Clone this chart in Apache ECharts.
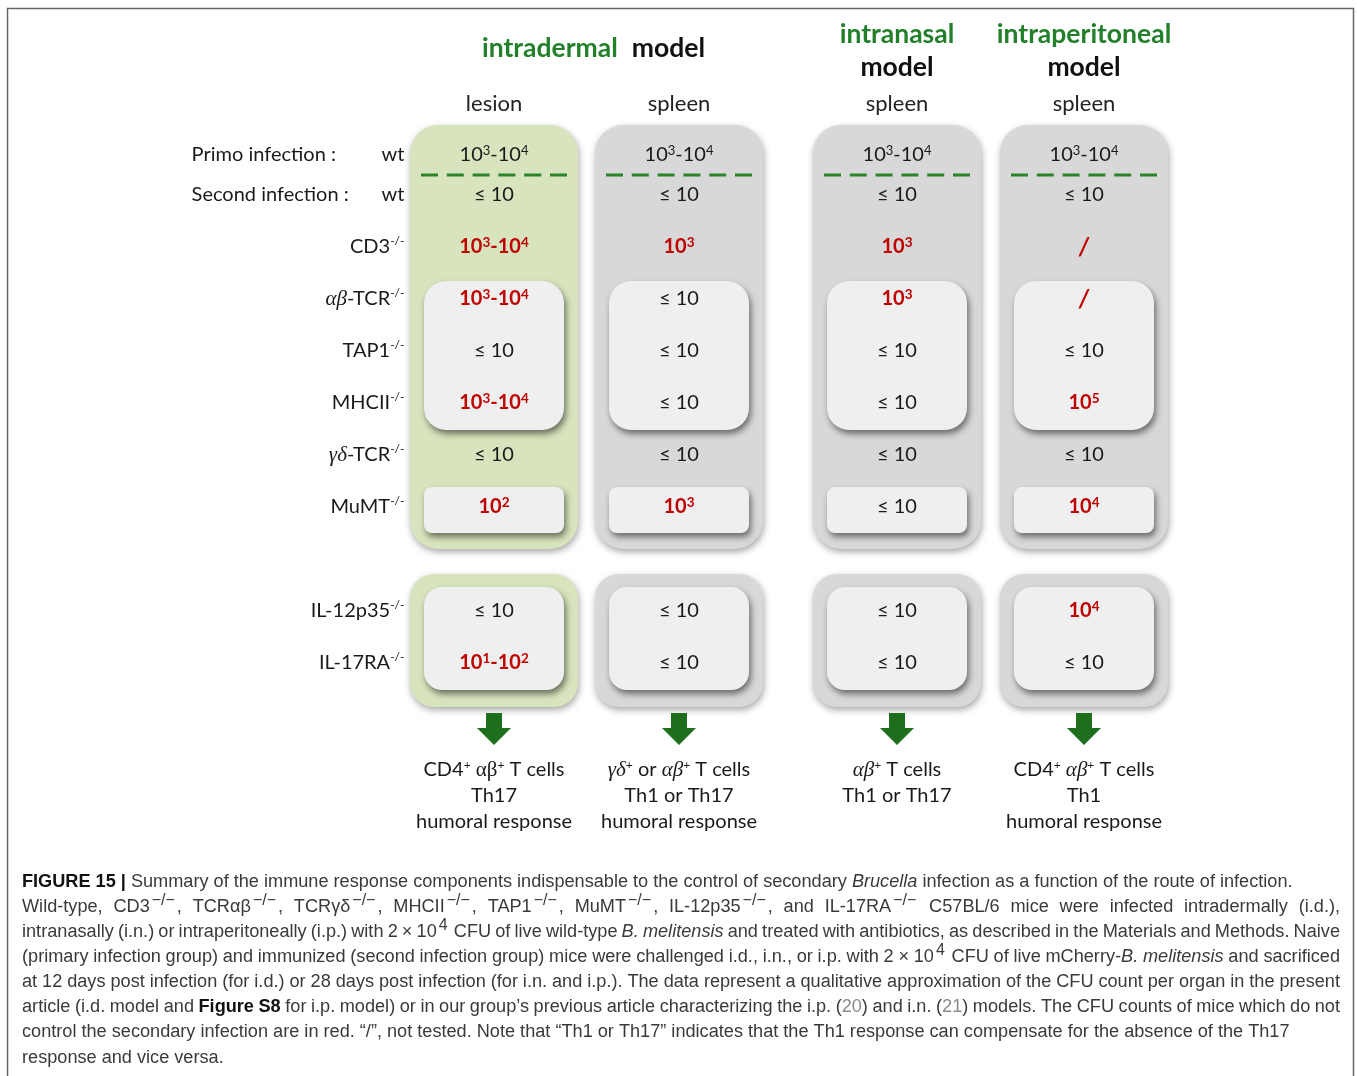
<!DOCTYPE html>
<html><head><meta charset="utf-8">
<script src="https://cdn.jsdelivr.net/npm/echarts@6/dist/echarts.min.js"></script>
<style>html,body{margin:0;padding:0;background:#fff}#c{width:1357px;height:1076px}</style>
</head><body><div id="c"></div>
<script>
// ---------------- data ----------------
const rows = ['Primo infection', 'Second infection', 'CD3', 'αβ-TCR', 'TAP1', 'MHCII', 'γδ-TCR', 'MuMT', 'gap', 'IL-12p35', 'IL-17RA'];
const models = ['intradermal', 'intranasal', 'intraperitoneal'];
const organs = [['lesion', 'spleen'], ['spleen'], ['spleen']];
// CFU per organ (row order; '' for the gap row)
const idLesion = ['10^3-10^4', '<=10', '10^3-10^4', '10^3-10^4', '<=10', '10^3-10^4', '<=10', '10^2', '', '<=10', '10^1-10^2'];
const idSpleen = ['10^3-10^4', '<=10', '10^3', '<=10', '<=10', '<=10', '<=10', '10^3', '', '<=10', '<=10'];
const inSpleen = ['10^3-10^4', '<=10', '10^3', '10^3', '<=10', '<=10', '<=10', '<=10', '', '<=10', '<=10'];
const ipSpleen = ['10^3-10^4', '<=10', '/', '/', '<=10', '10^5', '<=10', '10^4', '', '10^4', '<=10'];
const modelColumns = [[idLesion, idSpleen], [inSpleen], [ipSpleen]];
const outerGroups = [['Primo infection', 'MuMT'], ['IL-12p35', 'IL-17RA']];
const innerGroups = [['αβ-TCR', 'MHCII'], ['MuMT', 'MuMT'], ['IL-12p35', 'IL-17RA']];
const responses = [
  [['CD4⁺ αβ⁺ T cells', 'Th17', 'humoral response'], ['γδ⁺ or αβ⁺ T cells', 'Th1 or Th17', 'humoral response']],
  [['αβ⁺ T cells', 'Th1 or Th17']],
  [['CD4⁺ αβ⁺ T cells', 'Th1', 'humoral response']]
];
const captionLines = [
  '{b|FIGURE 15 |} Summary of the immune response components indispensable to the control of secondary {i|Brucella} infection as a function of the route of infection.',
  'Wild-type, CD3{s|−/−}, TCRαβ{s|−/−}, TCRγδ{s|−/−}, MHCII{s|−/−}, TAP1{s|−/−}, MuMT{s|−/−}, IL-12p35{s|−/−}, and IL-17RA{s|−/−} C57BL/6 mice were infected intradermally (i.d.),',
  'intranasally (i.n.) or intraperitoneally (i.p.) with 2 × 10{s|4} CFU of live wild-type {i|B. melitensis} and treated with antibiotics, as described in the Materials and Methods. Naive',
  '(primary infection group) and immunized (second infection group) mice were challenged i.d., i.n., or i.p. with 2 × 10{s|4} CFU of live mCherry-{i|B. melitensis} and sacrificed',
  'at 12 days post infection (for i.d.) or 28 days post infection (for i.n. and i.p.). The data represent a qualitative approximation of the CFU count per organ in the present',
  'article (i.d. model and {b|Figure S8} for i.p. model) or in our group’s previous article characterizing the i.p. ({l|20}) and i.n. ({l|21}) models. The CFU counts of mice which do not',
  'control the secondary infection are in red. “/”, not tested. Note that “Th1 or Th17” indicates that the Th1 response can compensate for the absence of the Th17',
  'response and vice versa.'
];

// ---------------- styles ----------------
const FONT = 'Lato, "Open Sans", sans-serif';
const SERIF = '"Liberation Serif", "DejaVu Serif", serif';
const CAP = '"Liberation Sans", Arial, sans-serif';
const CAP_SIZE = 18.15;
const RED = '#c00000';
const TXT = '#1a1a1a';
const GREEN_HEAD = '#23802a';

const valRich = {
  nb: {fontFamily: FONT, fontSize: 20, color: TXT},
  nsup: {fontFamily: FONT, fontSize: 13, color: TXT, padding: [0, 0, 8, 0]},
  rb: {fontFamily: FONT, fontSize: 20, fontWeight: 'bold', color: RED},
  rsup: {fontFamily: FONT, fontSize: 13.5, fontWeight: 'bold', color: RED, padding: [0, 0, 8, 0]},
  le: {fontFamily: FONT, fontSize: 20, color: TXT},
  sl: {fontFamily: FONT, fontSize: 24, fontWeight: 'bold', fontStyle: 'italic', color: RED}
};
const rowRich = {
  n: {fontFamily: FONT, fontSize: 20, color: TXT},
  g: {fontFamily: SERIF, fontSize: 21, fontStyle: 'italic', color: TXT},
  s: {fontFamily: FONT, fontSize: 12, color: TXT, padding: [0, 0, 11, 0]},
  pl: {fontFamily: FONT, fontSize: 20, color: TXT, width: 190, align: 'left', padding: [24, 0, 0, 0]},
  wt: {fontFamily: FONT, fontSize: 20, color: TXT, padding: [24, 0, 0, 0]},
  sl: {fontFamily: FONT, fontSize: 20, color: TXT, width: 190, align: 'left'},
  wt2: {fontFamily: FONT, fontSize: 20, color: TXT}
};
const respRich = {
  t: {fontFamily: FONT, fontSize: 20, color: TXT, lineHeight: 26},
  u: {fontFamily: FONT, fontSize: 12, color: TXT, lineHeight: 26, padding: [0, 0, 10, 0]},
  g: {fontFamily: SERIF, fontSize: 21, color: TXT, lineHeight: 26},
  gi: {fontFamily: SERIF, fontSize: 21, fontStyle: 'italic', color: TXT, lineHeight: 26}
};
const headRich = {
  g: {fontFamily: FONT, fontSize: 26.5, fontWeight: 'bold', color: GREEN_HEAD, lineHeight: 33},
  k: {fontFamily: FONT, fontSize: 26.5, fontWeight: 'bold', color: '#111', lineHeight: 33},
  sp: {fontFamily: FONT, fontSize: 26.5, width: 14}
};

// ---------------- formatters ----------------
function rowLabel(v) {
  if (v === 'gap') return '';
  if (v === 'Primo infection') return '{pl|Primo infection :}{wt|wt}';
  if (v === 'Second infection') return '{sl|Second infection :}{wt2|wt}';
  const m = v.match(/^([αβγδ]+)(.*)$/);
  if (m) return '{g|' + m[1] + '}{n|' + m[2] + '}{s|-/-}';
  return '{n|' + v + '}{s|-/-}';
}
function isRed(rowIdx, v) { return rowIdx >= 2 && v !== '<=10'; }
function cfuLabel(v, red) {
  if (v === '<=10') return '{le|≤ 10}';
  if (v === '/') return '{sl|/}';
  const b = red ? 'rb' : 'nb', s = red ? 'rsup' : 'nsup';
  return v.split('-').map(function (p) {
    const q = p.split('^');
    return '{' + b + '|' + q[0] + '}{' + s + '|' + q[1] + '}';
  }).join('{' + b + '|-}');
}
function respLabel(lines, upright) {
  return lines.map(function (line) {
    let out = '';
    line.split(/([αβγδ]+|⁺)/).forEach(function (tok) {
      if (!tok) return;
      if (tok === '⁺') out += '{u|+}';
      else if (/^[αβγδ]+$/.test(tok)) out += '{' + (upright ? 'g' : 'gi') + '|' + tok + '}';
      else out += '{t|' + tok + '}';
    });
    return out;
  }).join('\n');
}

// ---------------- layout ----------------
const gridLefts = [401.5, 804.5, 991.5];
const BAND_W = 185, TOP = 117, BAND_H = 52;
const grids = [], xAxes = [], yAxes = [], series = [];

models.forEach(function (model, gi) {
  const nCols = organs[gi].length;
  grids.push({left: gridLefts[gi], top: TOP, width: BAND_W * nCols, height: BAND_H * rows.length, outerBoundsMode: 'none', containLabel: false});
  const name = gi === 0 ? '{g|intradermal}{sp|}{k|model}' : '{g|' + model + '}\n{k|model}';
  xAxes.push({
    gridIndex: gi, type: 'category', position: 'top', data: organs[gi],
    axisLine: {show: false}, axisTick: {show: false}, splitLine: {show: false},
    axisLabel: {interval: 0, margin: 2, fontSize: 22, color: '#222', fontFamily: FONT},
    name: name, nameLocation: 'middle', nameGap: gi === 0 ? 52 : 33,
    nameTextStyle: {rich: headRich, padding: gi === 0 ? [0, 0, 0, 14] : 0}
  });
  xAxes.push({
    gridIndex: gi, type: 'category', position: 'bottom', data: organs[gi],
    axisLine: {show: false}, axisTick: {show: false}, splitLine: {show: false},
    axisLabel: {interval: 0, margin: 68, rich: respRich, lineHeight: 26,
      formatter: function (v, idx) { return respLabel(responses[gi][idx], organs[gi][idx] === 'lesion'); }}
  });
  yAxes.push({
    gridIndex: gi, type: 'category', inverse: true, data: rows, show: gi === 0,
    axisLine: {show: false}, axisTick: {show: false}, splitLine: {show: false},
    axisLabel: {show: gi === 0, interval: 0, margin: -3, formatter: rowLabel, rich: rowRich}
  });

  // shapes (boxes, dashed separators, arrows)
  const shapes = [];
  for (let c = 0; c < nCols; c++) {
    outerGroups.forEach(function (g, k) { shapes.push({value: [c, rows.indexOf(g[0]), rows.indexOf(g[1])], kind: 'outer', k: k}); });
    innerGroups.forEach(function (g, k) { shapes.push({value: [c, rows.indexOf(g[0]), rows.indexOf(g[1])], kind: 'inner', k: k}); });
    shapes.push({value: [c, 0, 1], kind: 'dash'});
    shapes.push({value: [c, rows.length - 1, rows.length - 1], kind: 'arrow'});
  }
  const outerPads = [[8, 16], [-11, 18]], outerR = [28, 24];
  const innerPads = [[8, 1], [6, 0], [2, 1]], innerR = [22, 8, 18];
  series.push({
    type: 'custom', xAxisIndex: gi * 2, yAxisIndex: gi, silent: true, z: 1,
    encode: {x: 0, y: 1},
    data: shapes,
    renderItem: function (params, api) {
      const sh = shapes[params.dataIndex];
      const c = api.value(0), r0 = api.value(1), r1 = api.value(2);
      const p0 = api.coord([c, r0]), p1 = api.coord([c, r1]);
      const sz = api.size([1, 1], [c, r0]);
      const bw = sz[0], bh = sz[1];
      const cx = p0[0];
      const green = organs[gi][c] === 'lesion';
      if (sh.kind === 'outer') {
        const y0 = p0[1] - bh / 2 + outerPads[sh.k][0];
        const y1 = p1[1] + bh / 2 + outerPads[sh.k][1];
        return {type: 'rect', z2: 0,
          shape: {x: cx - bw / 2 + 8.5, y: y0, width: bw - 17, height: y1 - y0, r: outerR[sh.k]},
          style: {fill: green ? '#d7e4bd' : '#d8d8d8', shadowBlur: 7, shadowOffsetX: 1, shadowOffsetY: 3, shadowColor: 'rgba(0,0,0,0.35)'}};
      }
      if (sh.kind === 'inner') {
        const y0 = p0[1] - bh / 2 + innerPads[sh.k][0];
        const y1 = p1[1] + bh / 2 + innerPads[sh.k][1];
        return {type: 'rect', z2: 1,
          shape: {x: cx - bw / 2 + 22.5, y: y0, width: bw - 45, height: y1 - y0, r: innerR[sh.k]},
          style: {fill: '#efefef', shadowBlur: 6, shadowOffsetX: 2, shadowOffsetY: 4, shadowColor: 'rgba(0,0,0,0.5)'}};
      }
      if (sh.kind === 'dash') {
        const y = p1[1] - 20;
        return {type: 'line', z2: 2,
          shape: {x1: cx - 73, y1: y, x2: cx + 73, y2: y},
          style: {stroke: '#2a842a', lineWidth: 3, lineDash: [17, 8.8]}};
      }
      const y = p0[1];
      return {type: 'polygon', z2: 2,
        shape: {points: [[cx - 8, y + 50], [cx + 8, y + 50], [cx + 8, y + 65], [cx + 17, y + 65], [cx, y + 82], [cx - 17, y + 65], [cx - 8, y + 65]]},
        style: {fill: '#1e6e1e'}};
    }
  });

  // values
  const pts = [];
  modelColumns[gi].forEach(function (col, c) {
    col.forEach(function (v, r) {
      if (v === '') return;
      const item = {value: [c, r], cfu: v, red: isRed(r, v)};
      if (r === 0) item.label = {offset: [0, 12]};
      pts.push(item);
    });
  });
  series.push({
    type: 'scatter', xAxisIndex: gi * 2, yAxisIndex: gi, silent: true, z: 5,
    symbolSize: 1, itemStyle: {color: 'rgba(0,0,0,0)'},
    data: pts,
    label: {show: true, position: 'inside', opacity: 1, rich: valRich,
      formatter: function (p) { return cfuLabel(p.data.cfu, p.data.red); }},
    emphasis: {disabled: true}
  });
});

// ---------------- caption (justified like the source) ----------------
const capStyles = {
  '': {fontFamily: CAP, fontSize: CAP_SIZE, fill: '#3a3a3a'},
  b: {fontFamily: CAP, fontSize: CAP_SIZE, fontWeight: 'bold', fill: '#111'},
  i: {fontFamily: CAP, fontSize: CAP_SIZE, fontStyle: 'italic', fill: '#3a3a3a'},
  s: {fontFamily: CAP, fontSize: 16, fill: '#3a3a3a', padding: [0, 2, 12, 2]},
  l: {fontFamily: CAP, fontSize: CAP_SIZE, fill: '#8a8a8a'}
};
const capRich = {b: capStyles.b, i: capStyles.i, s: capStyles.s, l: capStyles.l};
const mctx = document.createElement('canvas').getContext('2d');
function measure(text, st) {
  mctx.font = (st.fontStyle || 'normal') + ' ' + (st.fontWeight || 'normal') + ' ' + st.fontSize + 'px ' + st.fontFamily;
  const pad = st.padding ? st.padding[1] + st.padding[3] : 0;
  return mctx.measureText(text).width + pad;
}
function parseLine(line) {
  const segs = [];
  const re = /\{(\w+)\|([^}]*)\}/g;
  let last = 0, m;
  while ((m = re.exec(line))) {
    if (m.index > last) segs.push({st: '', text: line.slice(last, m.index)});
    segs.push({st: m[1], text: m[2]});
    last = re.lastIndex;
  }
  if (last < line.length) segs.push({st: '', text: line.slice(last)});
  const words = [];
  let cur = [];
  segs.forEach(function (s) {
    const parts = s.text.split(' ');
    parts.forEach(function (p, k) {
      if (k > 0) { if (cur.length) words.push(cur); cur = []; }
      if (p) cur.push({st: s.st, text: p});
    });
  });
  if (cur.length) words.push(cur);
  return words;
}
const captionY = [882, 907, 932, 957, 982, 1007, 1032, 1058];
const justified = [false, true, true, true, true, true, false, false];
const CAP_LEFT = 22, CAP_RIGHT = 1340;
const graphic = [{type: 'rect', silent: true, shape: {x: 7.5, y: 8.5, width: 1346, height: 1100},
  style: {fill: 'none', stroke: '#666', lineWidth: 1.5}}];
captionLines.forEach(function (line, i) {
  const words = parseLine(line);
  const widths = words.map(function (w) {
    return w.reduce(function (a, s) { return a + measure(s.text, capStyles[s.st]); }, 0);
  });
  const spaceW = measure(' ', capStyles['']);
  const natural = widths.reduce(function (a, b) { return a + b; }, 0) + spaceW * (words.length - 1);
  let gap = spaceW;
  if (justified[i] && words.length > 1) gap = spaceW + (CAP_RIGHT - CAP_LEFT - natural) / (words.length - 1);
  let x = CAP_LEFT;
  words.forEach(function (w, k) {
    const txt = w.map(function (s) { return s.st ? '{' + s.st + '|' + s.text + '}' : s.text; }).join('');
    graphic.push({type: 'text', silent: true, x: x, y: captionY[i],
      style: {text: txt, fontFamily: CAP, fontSize: CAP_SIZE, fill: '#3a3a3a', verticalAlign: 'middle', align: 'left', rich: capRich}});
    x += widths[k] + gap;
  });
});

const chart = echarts.init(document.getElementById('c'), null, {renderer: 'canvas'});
chart.setOption({
  backgroundColor: '#fff',
  animation: false,
  grid: grids, xAxis: xAxes, yAxis: yAxes, series: series, graphic: graphic
});
</script></body></html>
